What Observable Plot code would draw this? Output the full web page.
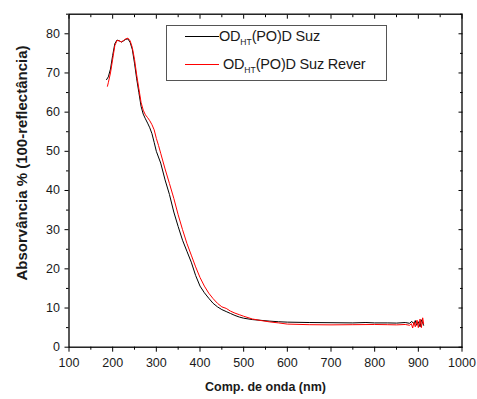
<!DOCTYPE html>
<html>
<head>
<meta charset="utf-8">
<script src="https://cdn.jsdelivr.net/npm/d3@7"></script>
<script src="https://cdn.jsdelivr.net/npm/@observablehq/plot@0.6"></script>
<style>
  html, body { margin: 0; padding: 0; background: #fff; }
  #wrap { position: relative; width: 477px; height: 399px; font-family: "Liberation Sans", Arial, sans-serif; color: #1a1a1a; }
  #legend { position: absolute; left: 166px; top: 25px; width: 221px; height: 56px; border: 1px solid #555; background: #fff; box-sizing: border-box; }
  .row { position: absolute; left: 0; height: 20px; font-size: 14.5px; white-space: nowrap; }
  .sw { position: absolute; width: 34px; height: 0; top: 10px; }
  .lbl { position: absolute; top: 0; line-height: 20px; letter-spacing: -0.2px; }
  .lbl sub { font-size: 8.5px; vertical-align: -4px; letter-spacing: 0; }
</style>
</head>
<body>
<div id="wrap"></div>
<script>
// Black series: OD_HT(PO)D Suz
const wlBlack = [186,190,195,200,205,210,215,220,225,230,235,240,245,250,255,260,265,270,275,280,285,290,295,300,310,320,330,340,350,360,370,380,390,400,410,420,430,440,450,460,470,480,490,500,520,540,560,580,600,650,700,750,780,800,830,850,870,880,885,890,893,896,900,904,907,910,912];
const absBlack = [68.3,69.0,71.0,74.5,77.5,78.4,78.2,77.9,78.2,78.6,78.7,77.8,76.0,72.5,68.5,65.0,61.5,59.5,58.3,57.2,56.0,54.5,52.3,50.0,47.0,42.7,39.0,34.5,30.8,27.3,24.5,21.7,18.3,15.6,13.9,12.5,11.2,10.3,9.6,9.1,8.6,8.1,7.7,7.4,7.05,6.85,6.65,6.5,6.4,6.3,6.25,6.2,6.3,6.2,6.2,6.15,6.3,6.1,6.6,5.9,6.8,5.6,6.5,5.2,7.0,6.2,5.6];
// Red series: OD_HT(PO)D Suz Rever
const wlRed = [188,190,195,200,205,210,215,220,225,230,235,240,245,250,255,260,265,270,275,280,285,290,295,300,305,310,320,330,340,350,360,370,380,390,400,410,420,430,440,450,460,470,480,490,500,520,540,560,580,600,650,700,750,800,830,850,870,880,884,887,890,893,897,900,904,907,910,912];
const absRed = [66.6,67.5,70.0,73.5,77.0,78.3,78.2,77.9,78.3,78.7,78.9,78.2,76.5,73.5,69.5,66.0,62.5,60.5,59.3,58.6,57.8,56.8,55.5,53.3,51.5,49.5,45.5,41.8,38.0,33.8,30.0,26.5,23.5,20.5,17.8,15.6,13.8,12.4,11.2,10.3,9.9,9.2,8.7,8.3,7.9,7.2,6.8,6.45,6.2,5.9,5.75,5.7,5.75,5.8,5.75,5.7,5.8,5.6,6.0,4.9,6.4,5.2,6.9,5.0,7.2,5.0,7.5,6.0];

const xTicks = [100,200,300,400,500,600,700,800,900,1000];
const xMinor = [150,250,350,450,550,650,750,850,950];
const yTicks = [0,10,20,30,40,50,60,70,80];
const yMinor = [5,15,25,35,45,55,65,75,85];
const seriesNames = ["OD", "HT", "(PO)D Suz", "(PO)D Suz Rever"];
const xTitle = "Comp. de onda (nm)";
const yTitle = "Absorvância % (100-reflectância)";

const black = wlBlack.map((w, i) => ({w, a: absBlack[i]}));
const red = wlRed.map((w, i) => ({w, a: absRed[i]}));
const blank = () => "";
const plain = d => String(d);
const ff = "'Liberation Sans', Arial, sans-serif";

const chart = Plot.plot({
  width: 477, height: 399,
  marginLeft: 68.5, marginRight: 15.5, marginTop: 13.7, marginBottom: 52.3,
  x: {domain: [100, 1000]},
  y: {domain: [0, 85]},
  style: {fontFamily: ff, fontSize: "12px", color: "#1a1a1a", background: "#fff"},
  marks: [
    Plot.axisX(xTicks, {tickSize: 5, tickPadding: 6, fontSize: 12.5, tickFormat: plain, label: null, stroke: "#000"}),
    Plot.axisX(xMinor, {tickSize: 3, tickFormat: blank, label: null, stroke: "#000"}),
    Plot.axisX(xTicks, {anchor: "top", tickSize: -4, tickFormat: blank, label: null, stroke: "#000"}),
    Plot.axisX(xMinor, {anchor: "top", tickSize: -2.5, tickFormat: blank, label: null, stroke: "#000"}),
    Plot.axisY(yTicks, {tickSize: 4, tickPadding: 5, fontSize: 12.5, tickFormat: plain, label: null, stroke: "#000"}),
    Plot.axisY(yMinor, {tickSize: 2.5, tickFormat: blank, label: null, stroke: "#000"}),
    Plot.axisY(yTicks, {anchor: "right", tickSize: -4, tickFormat: blank, label: null, stroke: "#000"}),
    Plot.axisY(yMinor, {anchor: "right", tickSize: -2.5, tickFormat: blank, label: null, stroke: "#000"}),
    Plot.frame({stroke: "#000", strokeWidth: 1.3}),
    Plot.line(black, {x: "w", y: "a", stroke: "#000", strokeWidth: 1}),
    Plot.line(red, {x: "w", y: "a", stroke: "#ff0000", strokeWidth: 1}),
    Plot.text([xTitle], {frameAnchor: "bottom", dy: 39.5, text: d => d, fontWeight: "bold", fontSize: 12.5, textAnchor: "middle", lineAnchor: "middle", fill: "#1a1a1a"}),
    Plot.text([yTitle], {frameAnchor: "left", dx: -47, dy: -17.7, text: d => d, rotate: -90, fontWeight: "bold", fontSize: 15, textAnchor: "middle", lineAnchor: "middle", fill: "#1a1a1a"})
  ]
});

const wrap = document.getElementById("wrap");
wrap.appendChild(chart);

const legend = document.createElement("div");
legend.id = "legend";
legend.innerHTML = `
  <div class="row" style="top:0px;width:100%">
    <div class="sw" style="left:18px;border-top:1px solid #000"></div>
    <div class="lbl" style="left:52px">${seriesNames[0]}<sub>${seriesNames[1]}</sub>${seriesNames[2]}</div>
  </div>
  <div class="row" style="top:28px;width:100%">
    <div class="sw" style="left:18px;border-top:1px solid #ff0000"></div>
    <div class="lbl" style="left:56px">${seriesNames[0]}<sub>${seriesNames[1]}</sub>${seriesNames[3]}</div>
  </div>`;
wrap.appendChild(legend);
</script>
</body>
</html>
